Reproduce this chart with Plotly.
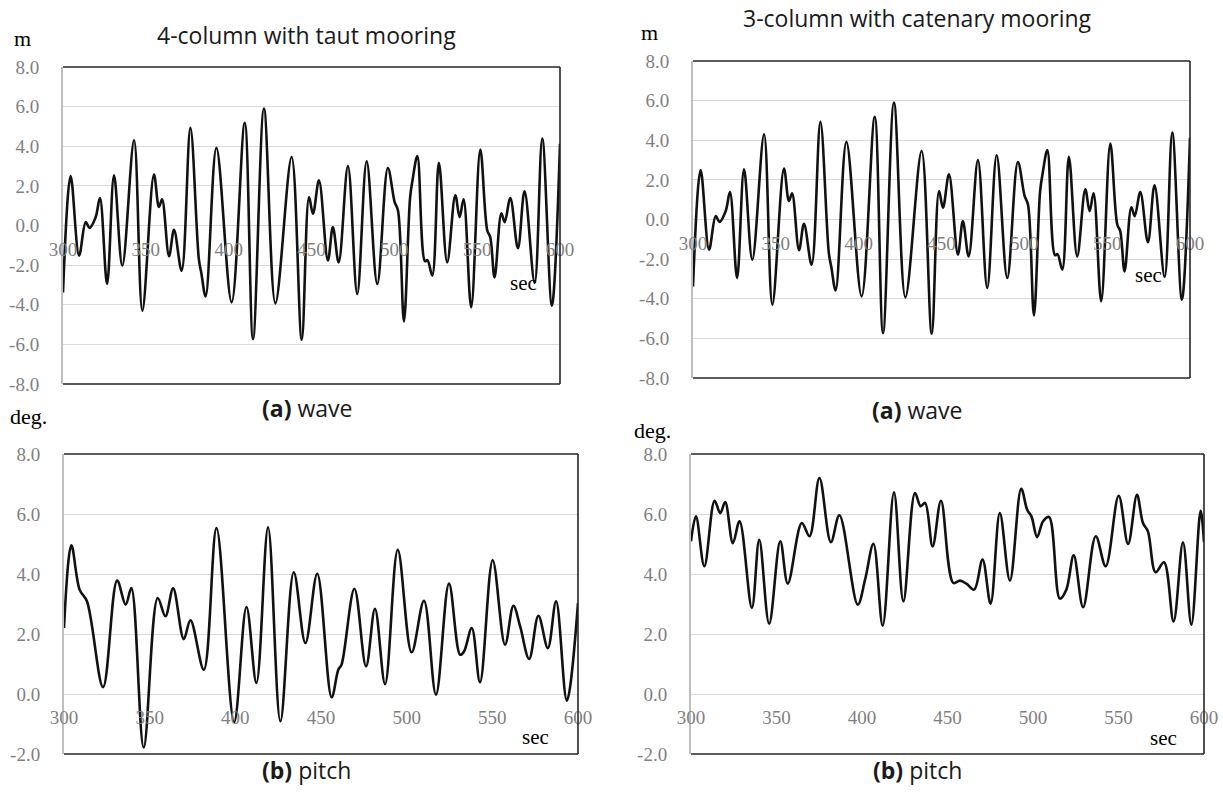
import plotly.graph_objects as go

# ---------------- data ----------------
wave_t = [300.0, 304.6, 309.7, 313.7, 316.0, 319.7, 322.3, 326.6, 330.8, 335.8,
          342.9, 347.9, 354.9, 357.9, 359.8, 364.0, 367.0, 371.6, 376.9, 382.0,
          383.5, 386.1, 392.6, 401.8, 409.7, 414.7, 421.3, 428.2, 438.0, 444.1,
          448.5, 450.9, 454.5, 459.9, 462.9, 466.4, 472.0, 477.6, 483.3, 489.7,
          496.1, 500.2, 502.2, 505.8, 509.5, 511.0, 513.9, 518.5, 520.0, 522.9,
          526.9, 531.9, 536.8, 539.4, 541.8, 546.4, 551.9, 556.1, 557.9, 560.5,
          564.6, 566.6, 570.0, 574.6, 578.6, 584.7, 589.3, 595.1, 600.0]
wave_v = [-3.38, 2.5, -1.52, 0.17, -0.12, 0.42, 1.38, -2.95, 2.53, -2.03,
          4.3, -4.3, 2.57, 0.93, 1.32, -1.55, -0.22, -2.28, 4.93, -1.7,
          -2.4, -3.58, 3.92, -3.88, 5.18, -5.74, 5.9, -3.93, 3.46, -5.77,
          1.43, 0.59, 2.28, -1.77, -0.08, -1.86, 3.0, -3.46, 3.24, -2.95,
          2.9, 1.18, 0.76, -4.84, 1.4, 2.3, 3.5, -1.8, -1.75, -2.53,
          3.16, -1.86, 1.52, 0.42, 1.32, -4.13, 3.83, -0.25, -0.59, -2.62,
          0.62, 0.17, 1.38, -1.15, 1.72, -2.9, 4.39, -4.05, 4.13]

pitch_taut_t = [300.0, 304.3, 309.1, 313.4, 322.8, 331.0, 336.0, 339.3, 346.5, 354.7,
                359.2, 363.7, 369.9, 373.8, 381.6, 389.0, 399.3, 406.5, 412.3, 419.1,
                426.3, 434.1, 440.9, 447.8, 456.2, 460.1, 462.0, 469.5, 476.3, 481.5,
                487.4, 494.8, 502.9, 510.1, 517.1, 524.7, 531.2, 533.5, 538.0, 542.8,
                550.2, 557.4, 562.3, 566.2, 571.5, 576.9, 582.4, 587.2, 593.5, 600.0]
pitch_taut_v = [2.2, 4.96, 3.48, 3.09, 0.23, 3.78, 2.98, 3.53, -1.78, 3.2,
                2.59, 3.52, 1.83, 2.46, 0.81, 5.53, -0.94, 2.9, 0.37, 5.56,
                -0.91, 4.06, 1.7, 4.01, -0.11, 0.81, 0.98, 3.51, 0.92, 2.84,
                0.33, 4.81, 1.39, 3.11, -0.02, 3.68, 1.31, 1.42, 2.2, 0.39,
                4.46, 1.64, 2.94, 2.26, 1.17, 2.61, 1.53, 3.09, -0.22, 3.03]

pitch_cat_t = [300.0, 302.9, 307.8, 313.8, 317.1, 320.0, 324.5, 328.4, 335.6, 339.9,
               345.7, 352.2, 356.6, 364.8, 369.3, 375.1, 381.8, 386.8, 397.5, 401.8,
               406.7, 412.1, 418.7, 424.2, 431.0, 434.3, 436.9, 441.3, 446.2, 453.4,
               457.3, 461.2, 465.6, 470.5, 475.2, 480.6, 486.5, 493.1, 496.6, 499.1,
               502.4, 505.9, 509.4, 515.7, 519.5, 523.8, 529.3, 536.7, 542.5, 550.1,
               555.6, 560.8, 564.3, 567.2, 571.7, 576.6, 582.2, 587.7, 592.6, 598.0,
               600.0]
pitch_cat_v = [5.09, 5.92, 4.26, 6.44, 6.03, 6.4, 5.03, 5.76, 2.87, 5.14,
               2.34, 5.09, 3.68, 5.7, 5.26, 7.2, 5.06, 5.96, 2.98, 3.81,
               5.01, 2.28, 6.72, 3.09, 6.7, 6.26, 6.37, 4.92, 6.44, 3.7,
               3.78, 3.67, 3.48, 4.48, 3.01, 6.03, 3.78, 6.84, 6.14, 5.92,
               5.23, 5.76, 5.9, 3.18, 3.48, 4.62, 2.89, 5.26, 4.26, 6.61,
               5.0, 6.64, 5.7, 5.42, 4.06, 4.39, 2.42, 5.06, 2.31, 6.11,
               5.06]

x_ticks = [300, 350, 400, 450, 500, 550, 600]
wave_yticks = [-8, -6, -4, -2, 0, 2, 4, 6, 8]
wave_yticktext = ["-8.0", "-6.0", "-4.0", "-2.0", "0.0", "2.0", "4.0", "6.0", "8.0"]
pitch_yticks = [-2, 0, 2, 4, 6, 8]
pitch_yticktext = ["-2.0", "0.0", "2.0", "4.0", "6.0", "8.0"]

titles = ["4-column with taut mooring", "3-column with catenary mooring"]

# ---------------- layout geometry ----------------
W, H = 1223, 794


def px_x(p):
    return p / W


def px_y(p):
    return 1 - p / H


panels = [
    dict(t=wave_t, v=wave_v, box=(63, 560, 67, 384), yr=[-8, 8],
         yt=wave_yticks, ytt=wave_yticktext),
    dict(t=wave_t, v=wave_v, box=(693, 1190, 61, 378), yr=[-8, 8],
         yt=wave_yticks, ytt=wave_yticktext),
    dict(t=pitch_taut_t, v=pitch_taut_v, box=(64, 578, 454, 754), yr=[-2, 8],
         yt=pitch_yticks, ytt=pitch_yticktext),
    dict(t=pitch_cat_t, v=pitch_cat_v, box=(691, 1204, 454, 754), yr=[-2, 8],
         yt=pitch_yticks, ytt=pitch_yticktext),
]

tick_font = dict(family="Liberation Serif", size=19, color="#7f7f7f")

fig = go.Figure()
layout = dict(
    width=W, height=H, margin=dict(l=0, r=0, t=0, b=0),
    paper_bgcolor="white", plot_bgcolor="white", showlegend=False,
)
shapes = []

for i, p in enumerate(panels):
    s = "" if i == 0 else str(i + 1)
    x0, x1, ytop, ybot = p["box"]
    xd = [px_x(x0), px_x(x1)]
    yd = [px_y(ybot), px_y(ytop)]
    zero_pos = yd[0] + (0 - p["yr"][0]) / (p["yr"][1] - p["yr"][0]) * (yd[1] - yd[0])
    fig.add_trace(go.Scatter(
        x=p["t"], y=p["v"], mode="lines", xaxis="x" + s, yaxis="y" + s,
        line=dict(color="#111111", width=2.6, shape="spline", smoothing=1.0),
        hoverinfo="skip",
    ))
    layout["xaxis" + s] = dict(
        domain=xd, range=[300, 600], anchor="free", position=zero_pos,
        tickvals=x_ticks, ticktext=[str(v) for v in x_ticks],
        showgrid=False, zeroline=False, showline=False, ticks="",
        tickfont=tick_font, ticklabelstandoff=10, fixedrange=True,
        automargin=False,
    )
    layout["yaxis" + s] = dict(
        domain=yd, range=p["yr"], anchor="x" + s,
        tickvals=p["yt"], ticktext=p["ytt"],
        showgrid=True, gridcolor="#d9d9d9", gridwidth=1, zeroline=False,
        showline=True, linecolor="#bfbfbf", linewidth=2, ticks="",
        tickfont=tick_font, ticklabelstandoff=18, fixedrange=True,
        automargin=False,
    )
    xr, yr = "x" + s + " domain", "y" + s + " domain"
    for (a0, b0, a1, b1) in [(0, 1, 1, 1), (1, 0, 1, 1), (0, 0, 1, 0)]:
        shapes.append(dict(type="line", xref=xr, yref=yr, x0=a0, y0=b0, x1=a1, y1=b1,
                           line=dict(color="#262626", width=1.6)))

layout["shapes"] = shapes

serif = "Liberation Serif"
sans = "Open Sans"
ann = []


def add_text(text, x, y, family, size, color="#000000"):
    ann.append(dict(text=text, x=px_x(x), y=px_y(y), xref="paper", yref="paper",
                    showarrow=False, xanchor="center", yanchor="middle",
                    font=dict(family=family, size=size, color=color)))


add_text(titles[0], 306, 35, sans, 23, "#1a1a1a")
add_text(titles[1], 917, 18, sans, 23, "#1a1a1a")
add_text("m", 22, 39, serif, 22)
add_text("m", 649, 33, serif, 22)
add_text("deg.", 28, 416, serif, 22)
add_text("deg.", 652, 430, serif, 22)
add_text("sec", 523, 283, serif, 21)
add_text("sec", 1148, 275, serif, 21)
add_text("sec", 535, 737, serif, 21)
add_text("sec", 1163, 738, serif, 21)
add_text("<b>(a)</b> wave", 307, 408, sans, 23, "#1a1a1a")
add_text("<b>(a)</b> wave", 917, 410, sans, 23, "#1a1a1a")
add_text("<b>(b)</b> pitch", 306, 770, sans, 23, "#1a1a1a")
add_text("<b>(b)</b> pitch", 917, 770, sans, 23, "#1a1a1a")

layout["annotations"] = ann
fig.update_layout(**layout)
fig.write_html("out.html")
